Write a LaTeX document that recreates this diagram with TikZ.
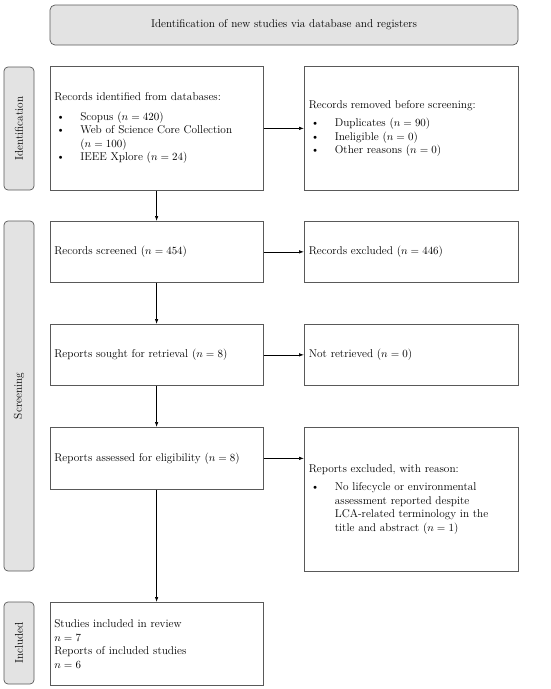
\documentclass[tikz,border=0pt]{standalone}
\usetikzlibrary{arrows.meta}
\newcommand\prbul{\hspace*{2pt}\makebox[24pt][l]{\textbullet}}
\newcommand\prind{\hspace*{26pt}}
\begin{document}
\begin{tikzpicture}[x=1pt,y=-1pt,
  font=\fontsize{11.3}{13.6}\selectfont,
  box/.style={draw=black!65, line width=0.7pt, align=left, inner xsep=4.5pt, inner ysep=0pt, anchor=north west},
  lbox/.style={box, text width=204.5pt},
  rbox/.style={box, text width=205pt},
  side/.style={draw=black!65, fill=black!11, line width=0.7pt, rounded corners=4pt, rotate=90, minimum height=30pt, inner sep=0pt},
  head/.style={draw=black!65, fill=black!11, line width=0.7pt, rounded corners=5pt, minimum width=468pt, minimum height=40pt},
  arr/.style={-{Latex[length=5pt,width=3.5pt]}, line width=0.7pt, draw=black}]
\useasboundingbox (0,0) rectangle (550,689);

\node[head] (top) at (284,25) {Identification of new studies via database and registers};

\node[side, minimum width=123pt] (sid) at (19,128.5) {Identification};
\node[side, minimum width=350pt] (sscr) at (19,396) {Screening};
\node[side, minimum width=82pt] (sinc) at (19,643) {Included};

\node[lbox, minimum height=124pt] (ident) at (49.5,66) {Records identified from databases:\\[5.5pt]
\prbul Scopus ($n = 420$)\\
\prbul Web of Science Core Collection\\
\prind($n = 100$)\\
\prbul IEEE Xplore ($n = 24$)};

\node[rbox, minimum height=124pt] (removed) at (304,66) {Records removed before screening:\\[5pt]
\prbul Duplicates ($n = 90$)\\
\prbul Ineligible ($n = 0$)\\
\prbul Other reasons ($n = 0$)};

\node[lbox, minimum height=61pt] (screened) at (49.5,221) {Records screened ($n = 454$)};
\node[rbox, minimum height=61pt] (excluded) at (304,221) {Records excluded ($n = 446$)};

\node[lbox, minimum height=61pt] (sought) at (49.5,324) {Reports sought for retrieval ($n = 8$)};
\node[rbox, minimum height=61pt] (notret) at (304,324) {Not retrieved ($n = 0$)};

\node[lbox, minimum height=62pt] (assessed) at (49.5,427) {Reports assessed for eligibility ($n = 8$)};
\node[rbox, minimum height=144pt] (repexcl) at (304,427) {Reports excluded, with reason:\\[4.5pt]
\prbul No lifecycle or environmental\\
\prind assessment reported despite\\
\prind LCA-related terminology in the\\
\prind title and abstract ($n = 1$)};

\node[lbox, minimum height=83pt] (included) at (49.5,602) {Studies included in review\\
$n = 7$\\
Reports of included studies\\
$n = 6$};

\draw[arr] (ident) -- (removed);
\draw[arr] (screened) -- (excluded);
\draw[arr] (sought) -- (notret);
\draw[arr] (assessed.east) -- (assessed.east -| repexcl.west);

\draw[arr] (ident) -- (screened);
\draw[arr] (screened) -- (sought);
\draw[arr] (sought) -- (assessed);
\draw[arr] (assessed) -- (included);
\end{tikzpicture}
\end{document}
